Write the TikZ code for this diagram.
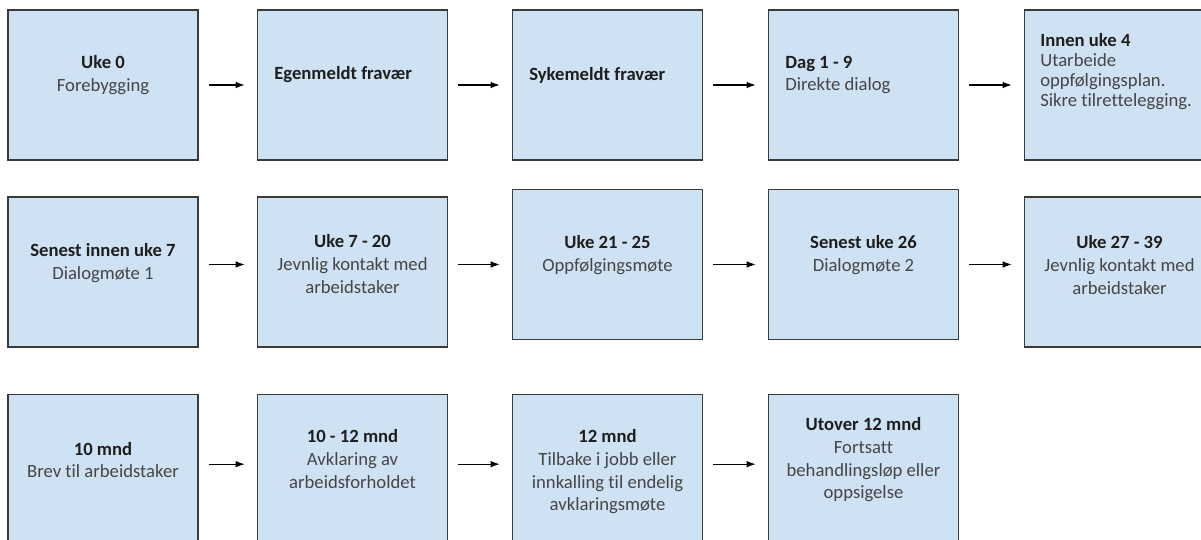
\documentclass[tikz,border=0pt]{standalone}
\usepackage{fontspec}
\setmainfont{Carlito}[Ligatures=NoCommon]
\usepackage{tikz}
\usetikzlibrary{arrows.meta, positioning, calc}
\definecolor{sboxfill}{HTML}{CFE2F3}
\definecolor{sboxdraw}{HTML}{3A3A3A}
\definecolor{stitlecol}{HTML}{1E1E1E}
\definecolor{sbodycol}{HTML}{454545}
\tikzset{
  stagebox/.style={draw=sboxdraw, fill=sboxfill, line width=1pt,
                   minimum width=142.5pt, minimum height=112.5pt, inner sep=0pt},
  stagetext/.style={font=\fontsize{14}{17}\selectfont, text=sbodycol,
                    inner sep=0pt, align=center},
  stagetextl/.style={stagetext, align=left, anchor=west},
  sarrow/.style={-{Latex[length=7pt, width=5pt]}, line width=0.9pt, black,
                 shorten <=7.5pt, shorten >=9pt},
}
\newcommand{\stitle}[1]{{\bfseries\color{stitlecol}#1}}

\begin{document}
\begin{tikzpicture}[x=0.75pt, y=-0.75pt]

  \useasboundingbox (0,0) rectangle (1201,539);
  \clip (0,0) rectangle (1201,539);

  % row 1
  \node[stagebox] (b11) at (103,85) {};
  \node[stagebox] (b12) at (352.5,85) {};
  \node[stagebox] (b13) at (607.5,85) {};
  \node[stagebox] (b14) at (863.5,85) {};
  \node[stagebox] (b15) at (1119.5,85) {};

  \node[stagetext] (t11) at (103,75) {\stitle{Uke 0}\\Forebygging};
  \node[stagetextl] (t12) at (274,75) {\stitle{Egenmeldt fravær}};
  \node[stagetextl] (t13) at (529,75) {\stitle{Sykemeldt fravær}};
  \node[stagetextl] (t14) at (785,75) {\stitle{Dag 1 - 9}\\Direkte dialog};
  \node[stagetextl, font=\fontsize{14}{15}\selectfont] (t15) at (1040,72)
    {\stitle{Innen uke 4}\\Utarbeide\\oppfølgingsplan.\\Sikre tilrettelegging.};

  \draw[sarrow] (b11) -- (b12);
  \draw[sarrow] (b12) -- (b13);
  \draw[sarrow] (b13) -- (b14);
  \draw[sarrow] (b14) -- (b15);

  % row 2
  \node[stagebox] (b21) at (103,272) {};
  \node[stagebox] (b22) at (352.5,272) {};
  \node[stagebox] (b23) at (607.5,264.5) {};
  \node[stagebox] (b24) at (863.5,264.5) {};
  \node[stagebox] (b25) at (1119.5,272) {};

  \node[stagetext] (t21) at (103,263) {\stitle{Senest innen uke 7}\\Dialogmøte 1};
  \node[stagetext] (t22) at (352.5,264) {\stitle{Uke 7 - 20}\\Jevnlig kontakt med\\arbeidstaker};
  \node[stagetext] (t23) at (607.5,255) {\stitle{Uke 21 - 25}\\Oppfølgingsmøte};
  \node[stagetext] (t24) at (863.5,255) {\stitle{Senest uke 26}\\Dialogmøte 2};
  \node[stagetext] (t25) at (1119.5,265) {\stitle{Uke 27 - 39}\\Jevnlig kontakt med\\arbeidstaker};

  \draw[sarrow] (b21.east |- b23.center) -- (b22.west |- b23.center);
  \draw[sarrow] (b22.east |- b23.center) -- (b23.west);
  \draw[sarrow] (b23.east) -- (b24.west);
  \draw[sarrow] (b24.east) -- (b24.east -| b25.west);

  % row 3
  \node[stagebox] (b31) at (103,469.5) {};
  \node[stagebox] (b32) at (352.5,469.5) {};
  \node[stagebox] (b33) at (607.5,469.5) {};
  \node[stagebox] (b34) at (863.5,469.5) {};

  \node[stagetext] (t31) at (103,460) {\stitle{10 mnd}\\Brev til arbeidstaker};
  \node[stagetext] (t32) at (352.5,459) {\stitle{10 - 12 mnd}\\Avklaring av\\arbeidsforholdet};
  \node[stagetext] (t33) at (607.5,472) {\stitle{12 mnd}\\Tilbake i jobb eller\\innkalling til endelig\\avklaringsmøte};
  \node[stagetext] (t34) at (863.5,460) {\stitle{Utover 12 mnd}\\Fortsatt\\behandlingsløp eller\\oppsigelse};

  \draw[sarrow] ([yshift=4pt]b31.east) -- ([yshift=4pt]b32.west);
  \draw[sarrow] ([yshift=4pt]b32.east) -- ([yshift=4pt]b33.west);
  \draw[sarrow] ([yshift=4pt]b33.east) -- ([yshift=4pt]b34.west);

\end{tikzpicture}
\end{document}
